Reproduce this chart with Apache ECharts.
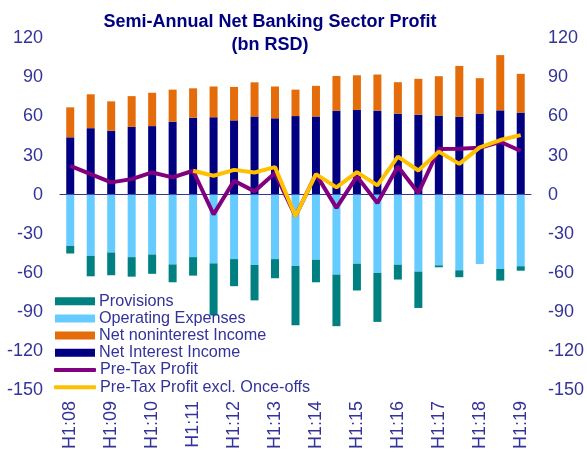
<!DOCTYPE html>
<html>
<head>
<meta charset="utf-8">
<script src="https://cdn.jsdelivr.net/npm/echarts@6/dist/echarts.min.js"></script>
<style>
  html, body { margin: 0; padding: 0; background: #fff; }
  #chart { width: 587px; height: 456px; }
</style>
</head>
<body>
<div id="chart"></div>
<script>
// semi-annual periods H1:08 .. H1:19
const periods = [
  'H1:08', 'H2:08', 'H1:09', 'H2:09', 'H1:10', 'H2:10', 'H1:11', 'H2:11',
  'H1:12', 'H2:12', 'H1:13', 'H2:13', 'H1:14', 'H2:14', 'H1:15', 'H2:15',
  'H1:16', 'H2:16', 'H1:17', 'H2:17', 'H1:18', 'H2:18', 'H1:19'
];

const netInterestIncome = [44, 51, 49, 52, 52.6, 56, 59, 59.4, 57, 60, 58.6, 60.3,
  60, 64.5, 65, 64.5, 62.2, 61.4, 60.7, 59.7, 62.2, 64.7, 63];
const netNoninterestIncome = [23, 26, 22.6, 23.6, 25.6, 24.6, 22.6, 23.6, 25.7, 26.2, 24.4, 20.3,
  23.5, 26.6, 26.6, 27.7, 24.1, 27.5, 30.2, 39.1, 27.2, 42.4, 29.7];
const operatingExpenses = [-39.4, -47, -44.4, -48, -46, -53.6, -48, -52.8, -49.5, -54, -49.5, -54.8,
  -50, -61.4, -53, -60.1, -53.8, -59.1, -54.3, -58.1, -53.3, -57.1, -55];
const provisions = [-5.8, -15.7, -17.5, -15, -14.8, -13.7, -14.2, -40, -20.8, -27.2, -14.7, -45.5,
  -17.3, -39.6, -20.6, -37.6, -11.4, -27.9, -1.5, -5.3, 0, -8.9, -3.4];
const preTaxProfit = [22, 15.7, 9.4, 11.9, 17, 13.2, 18.3, -15.2, 10.7, 2.5, 16.5, -16.5,
  15.7, -10.2, 14, -6.4, 21.6, 1.3, 35, 35.3, 36, 40.6, 33.5];
const preTaxProfitExOnce = [null, null, null, null, null, null, 18.3, 14.5, 19, 17, 21.1, -16.5,
  15.7, 5.6, 17.3, 7.1, 29.2, 18.5, 33, 23.6, 36.3, 41.9, 45.7];

const txt = '#333399';
const fontFam = 'Arial, "Liberation Sans", sans-serif';
const legendText = { color: txt, fontSize: 16.2, lineHeight: 17.2, fontFamily: fontFam, padding: [0, 0, 0, -1] };

const chart = echarts.init(document.getElementById('chart'));

chart.setOption({
  animation: false,
  title: {
    text: 'Semi-Annual Net Banking Sector Profit\n(bn RSD)',
    left: 265,
    textAlign: 'center',
    top: 6,
    textStyle: { color: '#000080', fontSize: 18, fontWeight: 'bold', fontFamily: fontFam, lineHeight: 23 }
  },
  legend: [{
    orient: 'vertical',
    left: 55,
    top: 292.6,
    padding: 0,
    itemWidth: 40,
    itemHeight: 8,
    itemGap: 0,
    textStyle: legendText,
    data: [
      { name: 'Provisions', icon: 'rect' },
      { name: 'Operating Expenses', icon: 'rect' },
      { name: 'Net noninterest Income', icon: 'rect' },
      { name: 'Net Interest Income', icon: 'rect' }
    ]
  }, {
    orient: 'vertical',
    left: 54,
    top: 361.4,
    padding: 0,
    itemWidth: 42,
    itemHeight: 4,
    itemGap: 0,
    textStyle: legendText,
    data: [
      { name: 'Pre-Tax Profit', icon: 'roundRect' },
      { name: 'Pre-Tax Profit excl. Once-offs', icon: 'roundRect' }
    ]
  }],
  grid: { left: 60, right: 52, top: 38.3, bottom: 66 },
  xAxis: [{
    type: 'category',
    data: periods,
    position: 'bottom',
    axisLine: { show: false },
    axisTick: { show: false },
    axisLabel: {
      interval: 1, rotate: 90, color: txt, fontSize: 18, fontFamily: fontFam, margin: 11
    }
  }, {
    type: 'category',
    data: periods,
    position: 'top',
    axisLine: { onZero: true, lineStyle: { color: '#333399', width: 1.2 } },
    axisTick: { interval: 1, inside: true, length: 5, lineStyle: { color: '#333399' } },
    axisLabel: { show: false }
  }],
  yAxis: [{
    type: 'value',
    min: -150, max: 120, interval: 30,
    splitLine: { show: false },
    axisLine: { show: false },
    axisLabel: { color: txt, fontSize: 18, fontFamily: fontFam, margin: 17 }
  }, {
    type: 'value',
    position: 'right',
    min: -150, max: 120, interval: 30,
    splitLine: { show: false },
    axisLine: { show: false },
    axisLabel: { color: txt, fontSize: 18, fontFamily: fontFam, margin: 17 }
  }],
  series: [
    { name: 'Net Interest Income', type: 'bar', stack: 'a', barWidth: 8,
      itemStyle: { color: '#000080' }, data: netInterestIncome },
    { name: 'Net noninterest Income', type: 'bar', stack: 'a', barWidth: 8,
      itemStyle: { color: '#E46C0A' }, data: netNoninterestIncome },
    { name: 'Operating Expenses', type: 'bar', stack: 'a', barWidth: 8,
      itemStyle: { color: '#66CCFF' }, data: operatingExpenses },
    { name: 'Provisions', type: 'bar', stack: 'a', barWidth: 8,
      itemStyle: { color: '#008080' }, data: provisions },
    { name: 'Pre-Tax Profit', type: 'line', showSymbol: false, symbol: 'none',
      lineStyle: { color: '#800080', width: 4 }, itemStyle: { color: '#800080' },
      data: preTaxProfit, z: 3 },
    { name: 'Pre-Tax Profit excl. Once-offs', type: 'line', showSymbol: false, symbol: 'none',
      lineStyle: { color: '#FFC000', width: 4 }, itemStyle: { color: '#FFC000' },
      data: preTaxProfitExOnce, z: 4 }
  ]
});
</script>
</body>
</html>
